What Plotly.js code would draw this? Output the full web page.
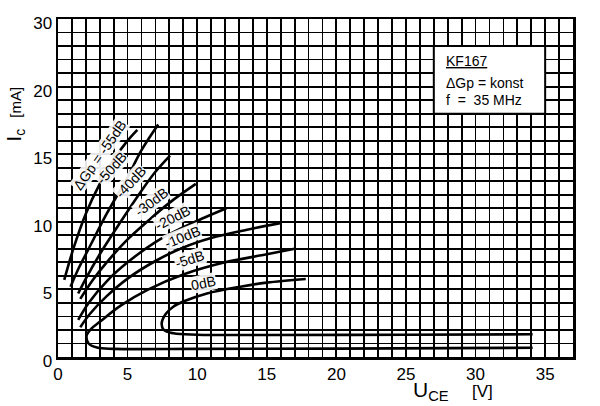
<!DOCTYPE html>
<html><head><meta charset="utf-8">
<script src="https://cdn.plot.ly/plotly-3.0.1.min.js"></script>
<style>html,body{margin:0;padding:0;background:#fff}#chart{width:600px;height:406px}</style>
</head><body><div id="chart"></div>
<script>
// Curves of constant gain reduction ΔGp, KF167, f = 35 MHz  (U_CE in V, I_C in mA)
const curveNames = ['-55dB','-50dB','-40dB','-30dB','-20dB','-10dB','-5dB','0dB'];
const x_m55 = [0.45, 1.1, 2.0, 3.0, 4.0, 5.0, 5.7];
const y_m55 = [5.7, 8.0, 10.6, 12.8, 14.6, 16.0, 16.8];
const x_m50 = [0.9, 1.5, 2.2, 3.5, 5.0, 6.0, 7.2];
const y_m50 = [5.2, 6.6, 8.0, 10.6, 13.3, 15.3, 17.2];
const x_m40 = [1.45, 2.0, 3.0, 4.5, 6.0, 7.0, 8.05];
const y_m40 = [4.7, 5.8, 7.6, 10.0, 12.3, 13.7, 14.9];
const x_m30 = [1.6, 2.5, 3.5, 5.0, 6.5, 8.0, 9.9];
const y_m30 = [4.3, 5.7, 7.0, 8.7, 10.1, 11.4, 12.8];
const x_m20 = [1.45, 2.2, 3.5, 5.0, 7.0, 9.0, 10.5, 12.1];
const y_m20 = [2.75, 4.0, 5.6, 7.0, 8.5, 9.6, 10.3, 11.0];
const x_m10 = [1.6, 2.3, 3.5, 5.0, 7.0, 9.0, 11.0, 13.5, 15.95];
const y_m10 = [2.2, 3.2, 4.5, 5.8, 7.1, 8.1, 8.8, 9.4, 9.9];
const x_m5 = [17.0, 15.0, 12.0, 9.0, 6.5, 4.5, 3.0, 2.4, 2.06, 2.2, 2.8, 4.0, 10.0, 20.0, 34.1];
const y_m5 = [8.0, 7.6, 7.0, 6.1, 5.0, 3.8, 2.6, 2.1, 1.6, 1.0, 0.7, 0.6, 0.6, 0.62, 0.68];
const x_0 = [17.8, 15.0, 13.1, 10.7, 9.0, 8.28, 7.75, 7.45, 7.6, 8.3, 10.0, 15.0, 25.0, 34.1];
const y_0 = [5.77, 5.5, 5.2, 4.7, 4.1, 3.72, 3.2, 2.5, 2.0, 1.75, 1.65, 1.63, 1.65, 1.68];

const xTickVals = [0, 5, 10, 15, 20, 25, 30, 35];
const xTickText = ['0', '5', '10', '15', '20', '25', '30', '35'];
const yTickVals = [0, 5, 10, 15, 20, 25];
const yTickText = ['0', '5', '10', '15', '20', '30'];

const curveLabels = ['ΔGp = -55dB', '-50dB', '-40dB', '-30dB', '-20dB', '-10dB', '-5dB', '0dB'];
const labelX = [3.0, 3.85, 5.22, 6.71, 8.2, 8.96, 9.5, 10.47];
const labelY = [14.95, 13.98, 12.95, 11.44, 10.3, 8.84, 7.22, 5.46];
const labelAngle = [-55, -48, -47, -37, -27, -22, -18, -12];

const xs = [x_m55, x_m50, x_m40, x_m30, x_m20, x_m10, x_m5, x_0];
const ys = [y_m55, y_m50, y_m40, y_m30, y_m20, y_m10, y_m5, y_0];

const FONT = '"Liberation Sans Narrow", "Liberation Sans", Arial, sans-serif';

const traces = xs.map((xv, i) => ({
  x: xv, y: ys[i], type: 'scatter', mode: 'lines', name: curveNames[i],
  line: {color: '#000', width: 2.6, shape: 'spline', smoothing: 1},
  hoverinfo: 'skip'
}));

const annotations = curveLabels.map((t, i) => ({
  x: labelX[i], y: labelY[i], xref: 'x', yref: 'y', text: t, showarrow: false,
  textangle: labelAngle[i], font: {family: FONT, size: 14, color: '#000'},
  bgcolor: 'rgba(255,255,255,0.9)', borderpad: 0
}));

annotations.push(
  {x: -0.082, y: 0.72, xref: 'paper', yref: 'paper', xanchor: 'center', yanchor: 'middle',
   text: 'I<sub>c</sub>  <span style="font-size:15px">[mA]</span>', textangle: -90,
   showarrow: false, font: {family: FONT, size: 20, color: '#000'}},
  {x: 0.767, y: -0.10, xref: 'paper', yref: 'paper', xanchor: 'center', yanchor: 'middle',
   text: 'U<sub>CE</sub>    <span style="font-size:17px">[V]</span>',
   showarrow: false, font: {family: FONT, size: 21, color: '#000'}},
  {x: 27.7, y: 21.9, xref: 'x', yref: 'y', xanchor: 'left', yanchor: 'middle',
   text: '<u>KF167</u>', showarrow: false, font: {family: FONT, size: 14, color: '#000'}},
  {x: 27.7, y: 20.3, xref: 'x', yref: 'y', xanchor: 'left', yanchor: 'middle',
   text: 'ΔGp = konst', showarrow: false, font: {family: FONT, size: 14, color: '#000'}},
  {x: 27.7, y: 19.0, xref: 'x', yref: 'y', xanchor: 'left', yanchor: 'middle',
   text: 'f  =  35 MHz', showarrow: false, font: {family: FONT, size: 14, color: '#000'}}
);

const layout = {
  width: 600, height: 406,
  margin: {l: 58, r: 27, t: 19, b: 49},
  paper_bgcolor: '#fff', plot_bgcolor: '#fff',
  showlegend: false,
  font: {family: FONT, size: 17, color: '#000'},
  xaxis: {
    range: [0, 37], showgrid: true, gridcolor: '#000', gridwidth: 1.8,
    tickmode: 'array', tickvals: xTickVals, ticktext: xTickText, ticks: '',
    showline: true, linecolor: '#000', linewidth: 2.5, mirror: true, zeroline: false,
    tickfont: {family: FONT, size: 17, color: '#000'},
    minor: {dtick: 1, showgrid: true, gridcolor: '#000', gridwidth: 1.8}
  },
  yaxis: {
    range: [0, 25], showgrid: true, gridcolor: '#000', gridwidth: 1.8,
    tickmode: 'array', tickvals: yTickVals, ticktext: yTickText, ticks: '',
    showline: true, linecolor: '#000', linewidth: 2.5, mirror: true, zeroline: false,
    tickfont: {family: FONT, size: 17, color: '#000'}, ticklabelshift: 4,
    minor: {dtick: 1, showgrid: true, gridcolor: '#000', gridwidth: 1.8}
  },
  shapes: [{type: 'rect', xref: 'x', yref: 'y', x0: 27, x1: 35, y0: 18, y1: 23,
            fillcolor: '#fff', line: {color: '#000', width: 2}, layer: 'above'}],
  annotations: annotations
};

Plotly.newPlot('chart', traces, layout, {staticPlot: true});
</script></body></html>
